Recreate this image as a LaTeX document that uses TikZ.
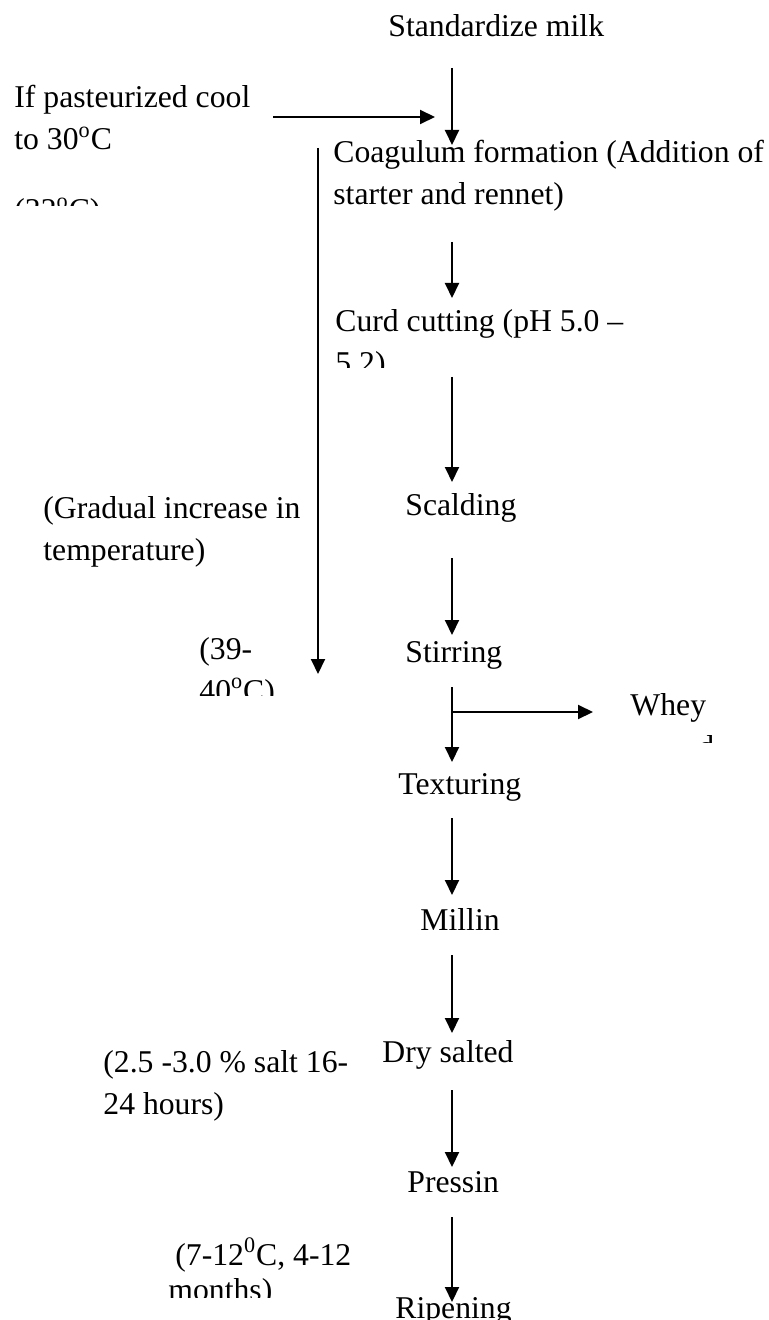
\documentclass[tikz,border=0pt]{standalone}
\usepackage{fontspec}
\setmainfont{Liberation Serif}
\usetikzlibrary{arrows.meta}

\begin{document}
\begin{tikzpicture}[x=0.5pt,y=-0.5pt, % 1 unit = 1 px, y downwards
    txt/.style={anchor=base west, inner sep=0pt, align=left,
      font=\fontsize{15.85}{21}\selectfont},
    arr/.style={line width=1pt, -{Triangle[length=7.5pt,width=7pt]}}]
  \useasboundingbox (0,0) rectangle (769,1320);
  % main column (base = last line of a node)
  \node[txt] (std) at (388,37) {Standardize milk};
  \node[txt] (coag) at (333,205) {Coagulum formation (Addition of\\starter and rennet)};
  \begin{scope}
    \clip (300,300) rectangle (769,368);
    \node[txt] (curd) at (335,374) {Curd cutting (pH 5.0 --\\5.2)};
  \end{scope}
  \node[txt] (scald) at (405,515) {Scalding};
  \node[txt] (stir) at (405,662) {Stirring};
  \node[txt] (textur) at (398,794) {Texturing};
  \node[txt] (mill) at (420,930) {Millin};
  \node[txt] (drysalt) at (382,1062) {Dry salted};
  \node[txt] (press) at (407,1192) {Pressin};
  \node[txt] (ripen) at (395,1318) {Ripening};
  % notes on the left
  \node[txt] (past) at (14,150) {If pasteurized cool\\to 30\textsuperscript{o}C};
  \begin{scope}
    \clip (0,180) rectangle (250,206);
    \node[txt] (temp32) at (14,221) {(32\textsuperscript{o}C)};
  \end{scope}
  \node[txt] (gradual) at (43,560) {(Gradual increase in\\temperature)};
  \begin{scope}
    \clip (150,630) rectangle (310,695);
    \node[txt] (temp39) at (199,701) {(39-\\40\textsuperscript{o}C)};
  \end{scope}
  \node[txt] (salt) at (103,1114) {(2.5 -3.0 \% salt 16-\\24 hours)};
  \node[txt] (ripe) at (175,1265) {(7-12\textsuperscript{0}C, 4-12};
  \begin{scope}
    \clip (150,1270) rectangle (400,1297);
    \node[txt] (ripe2) at (168,1300) {months)};
  \end{scope}
  % whey
  \node[txt] (whey) at (630,715) {Whey};
  \begin{scope}
    \clip (600,725) rectangle (769,742);
    \node[txt] (wheyd) at (698,757) {d};
  \end{scope}
  % arrows down the middle
  \foreach \n/\ya/\yb in {1/68/145, 2/242/298, 3/377/482, 4/558/635,
      5/687/762, 6/818/895, 7/955/1033, 8/1090/1167, 9/1217/1302} {
    \coordinate (s\n) at (452,\ya);
    \coordinate (e\n) at (452,\yb);
    \draw[arr] (s\n) -- (e\n);
  }
  % side arrows
  \coordinate (coolS) at (273,117);
  \coordinate (coolE) at (435,117);
  \draw[arr] (coolS) -- (coolE);
  \coordinate (heatS) at (318,148);
  \coordinate (heatE) at (318,674);
  \draw[arr] (heatS) -- (heatE);
  \coordinate (wheyS) at (452,712);
  \coordinate (wheyE) at (593,712);
  \draw[arr] (wheyS) -- (wheyE);
\end{tikzpicture}
\end{document}
